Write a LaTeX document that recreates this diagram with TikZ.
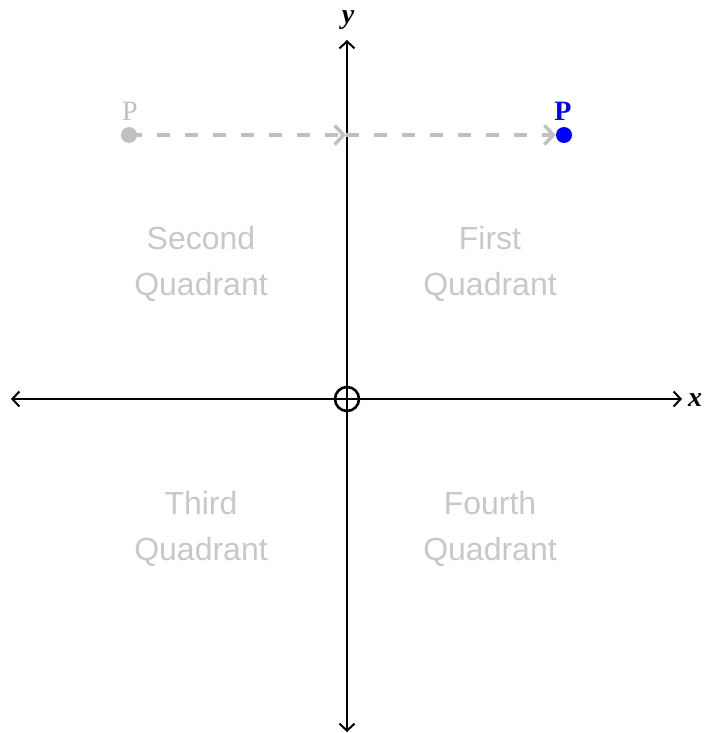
\documentclass[tikz,border=0pt]{standalone}
\usepackage{fontspec}
\setmainfont{Liberation Serif}
\setsansfont{Liberation Sans}
\usetikzlibrary{arrows.meta}
\definecolor{qgray}{RGB}{200,200,200}
\definecolor{lgray}{RGB}{192,192,192}
\definecolor{pblue}{RGB}{0,0,255}
\tikzset{
  axisline/.style={line width=1.6pt, black,
    {Straight Barb[length=7pt,width=15pt,line width=2pt]}-{Straight Barb[length=7pt,width=15pt,line width=2pt]}},
  dasharrow/.style={lgray, line width=3.5pt, dash pattern=on 13pt off 15pt,
    -{Straight Barb[length=9pt,width=19pt,line width=3.5pt]}},
  quad/.style={text=qgray, font=\sffamily\fontsize{32}{46}\selectfont, align=center, inner sep=0pt},
  plabel/.style={font=\fontsize{28}{28}\selectfont, anchor=base, inner sep=0pt},
  axlabel/.style={font=\bfseries\itshape\fontsize{28}{28}\selectfont, inner sep=0pt},
  pdot/.style={circle, minimum size=16pt, inner sep=0pt},
}
\begin{document}
\begin{tikzpicture}[x=1pt,y=-1pt]
\useasboundingbox (0,0) rectangle (704,733);
% axes
\coordinate (xl) at (11,399);
\coordinate (xr) at (682,399);
\coordinate (yt) at (347,40);
\coordinate (yb) at (347,732);
\draw[axisline] (xl) -- (xr);
\draw[axisline] (yb) -- (yt);
\node[circle, draw, line width=2.6pt, minimum size=24pt, inner sep=0pt] (O) at (347,399) {};
\node[axlabel] (xlab) at (695,400) {x};
\node[axlabel] (ylab) at (348,20) {y};
% quadrant labels
\node[quad] (q2) at (201,264) {Second\\Quadrant};
\node[quad] (q1) at (490,264) {First\\Quadrant};
\node[quad] (q3) at (201,529) {Third\\Quadrant};
\node[quad] (q4) at (490,529) {Fourth\\Quadrant};
% points
\node[pdot, fill=lgray] (gp) at (129,135) {};
\node[pdot, fill=pblue] (bp) at (564,135) {};
\node[plabel, text=lgray] (gpl) at (130,121) {P};
\node[plabel, text=pblue, font=\bfseries\fontsize{28}{28}\selectfont] (bpl) at (563,121) {P};
\coordinate (mid) at (346,135);
\draw[dasharrow] (gp.center) -- (mid);
\draw[dasharrow] (mid) -- (bp.west);
\end{tikzpicture}
\end{document}
